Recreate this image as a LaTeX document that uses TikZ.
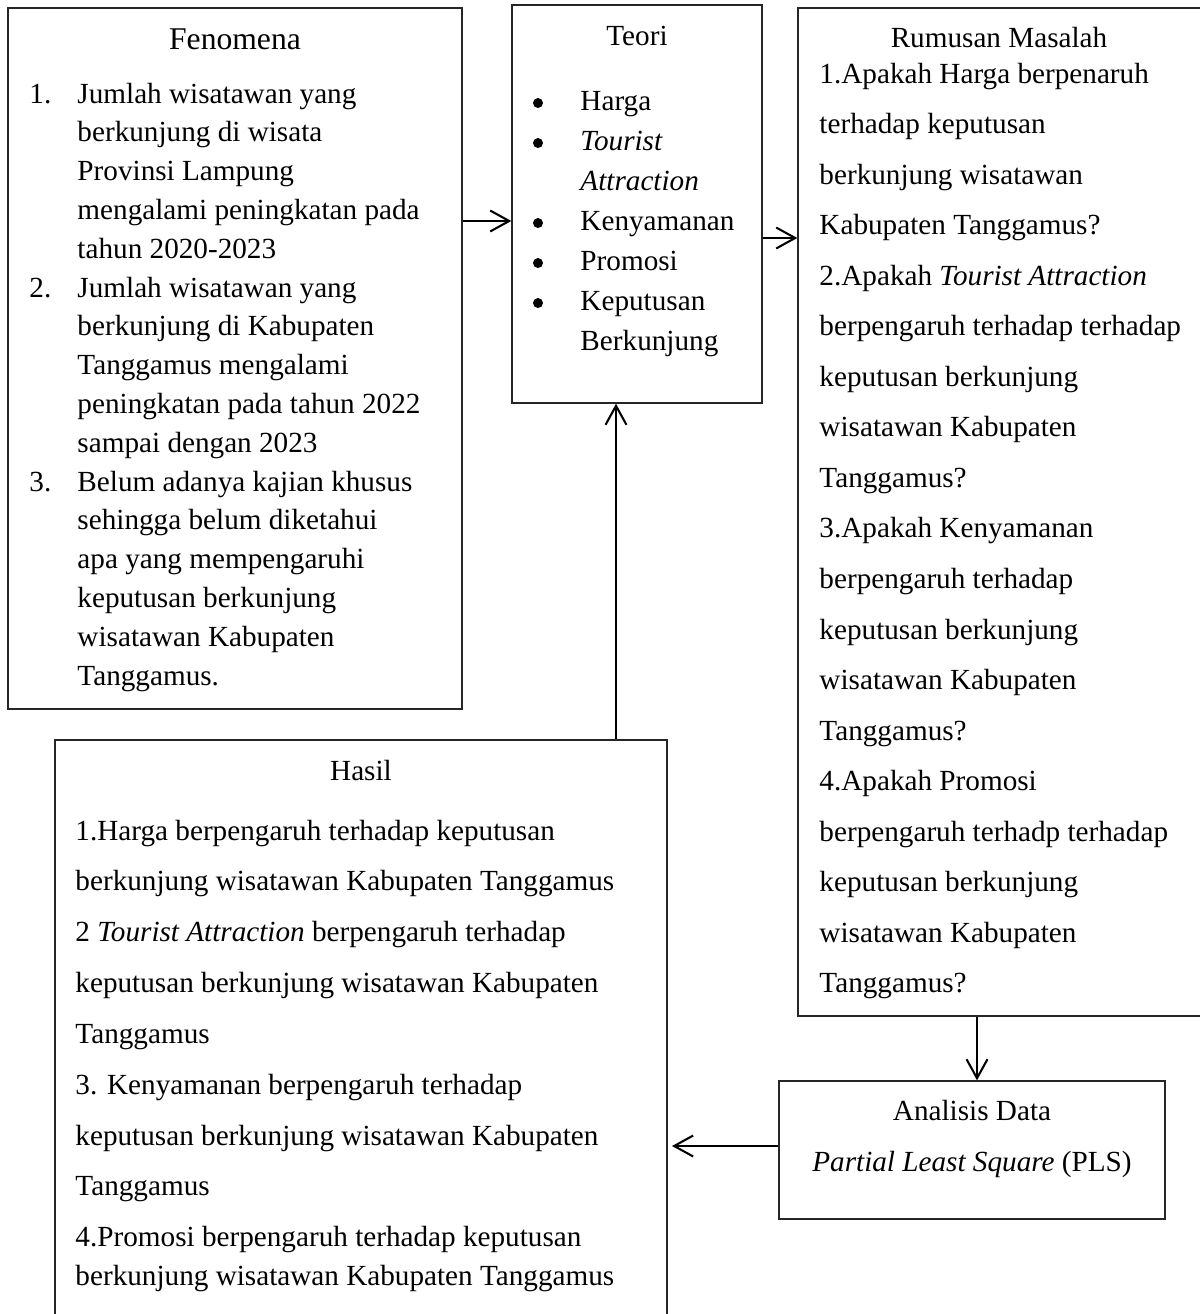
\documentclass[tikz,border=0pt]{standalone}
\usepackage{fontspec}
\setmainfont{Liberation Serif}
\usetikzlibrary{arrows.meta,fit}
\begin{document}
\begin{tikzpicture}[x=0.411pt,y=-0.411pt,
  box/.style={draw=black!85,line width=0.55pt,inner sep=0pt},
  txt/.style={anchor=base west,inner sep=0pt,font=\fontsize{12pt}{14pt}\selectfont},
  ctxt/.style={anchor=base,inner sep=0pt,font=\fontsize{12pt}{14pt}\selectfont},
  bul/.style={circle,fill=black,inner sep=0pt,minimum size=4.1pt},
  arr/.style={line width=0.85pt,-{Straight Barb[length=7.8pt,width=8.6pt,line width=0.85pt]}}]
\useasboundingbox (0,0) rectangle (1200,1314);
\clip (0,0) rectangle (1200,1314);

% boxes
\node[box,fit={(8,8) (462,709)}] (fen) {};
\node[box,fit={(512,5) (762,403)}] (teori) {};
\node[box,fit={(798,8) (1202,1016)}] (rum) {};
\node[box,fit={(55,740) (667,1340)}] (hasil) {};
\node[box,fit={(779,1081) (1165,1219)}] (anal) {};

% Fenomena
\node[ctxt,font=\fontsize{13pt}{15pt}\selectfont] (fent) at (235,49) {Fenomena};
\node[txt] (fn1) at (29,103) {1.};
\node[txt] (fn2) at (29,297) {2.};
\node[txt] (fn3) at (29,491) {3.};
\foreach \t [count=\i] in {Jumlah wisatawan yang, berkunjung di wisata, Provinsi Lampung,
  mengalami peningkatan pada, tahun 2020-2023, Jumlah wisatawan yang, berkunjung di Kabupaten,
  Tanggamus mengalami, peningkatan pada tahun 2022, sampai dengan 2023, Belum adanya kajian khusus,
  sehingga belum diketahui, apa yang mempengaruhi, keputusan berkunjung, wisatawan Kabupaten, Tanggamus.}
  \node[txt] (f\i) at (77,{103+38.8*(\i-1)}) {\t};

% Teori
\node[ctxt] (tt) at (637,45) {Teori};
\foreach \y [count=\i] in {110,150,230,270,310}
  \node[bul] (tb\i) at (538,\y-7) {};
\foreach \t/\y [count=\i] in {Harga/110,\textit{Tourist}/150,\textit{Attraction}/190,Kenyamanan/230,Promosi/270,Keputusan/310,Berkunjung/350}
  \node[txt] (t\i) at (580,\y) {\t};

% Rumusan Masalah
\node[ctxt] (rt) at (999,47) {Rumusan Masalah};
\foreach \t [count=\i] in {1.Apakah Harga berpenaruh, terhadap keputusan, berkunjung wisatawan,
  Kabupaten Tanggamus?, {2.Apakah \textit{Tourist Attraction}}, berpengaruh terhadap terhadap,
  keputusan berkunjung, wisatawan Kabupaten, Tanggamus?, 3.Apakah Kenyamanan,
  berpengaruh terhadap, keputusan berkunjung, wisatawan Kabupaten, Tanggamus?,
  4.Apakah Promosi, berpengaruh terhadp terhadap, keputusan berkunjung, wisatawan Kabupaten, Tanggamus?}
  \node[txt] (r\i) at (819,{83+50.55*(\i-1)}) {\t};

% Hasil
\node[ctxt] (ht) at (361,780) {Hasil};
\foreach \t [count=\i] in {1.Harga berpengaruh terhadap keputusan, berkunjung wisatawan Kabupaten Tanggamus,
  {2 \textit{Tourist Attraction} berpengaruh terhadap}, keputusan berkunjung wisatawan Kabupaten,
  Tanggamus, 3. Kenyamanan berpengaruh terhadap, keputusan berkunjung wisatawan Kabupaten,
  Tanggamus, 4.Promosi berpengaruh terhadap keputusan}
  \node[txt] (h\i) at (75,{840+50.85*(\i-1)}) {\t};
\node[txt] (h10) at (75,1285) {berkunjung wisatawan Kabupaten Tanggamus};

% Analisis
\node[ctxt] (at1) at (972,1120) {Analisis Data};
\node[ctxt] (at2) at (972,1171) {\textit{Partial Least Square} (PLS)};

% connectors
\coordinate (y1) at (0,221);
\coordinate (y2) at (0,238);
\coordinate (xv) at (616,0);
\coordinate (xr) at (977,0);
\coordinate (y3) at (0,1146);
\coordinate (tipH) at (672,1146);
\draw[arr] (fen.east |- y1) -- (teori.west |- y1);
\draw[arr] (teori.east |- y2) -- (rum.west |- y2);
\draw[arr] (hasil.north -| xv) -- (teori.south -| xv);
\draw[arr] (rum.south -| xr) -- (anal.north -| xr);
\draw[arr] (anal.west |- y3) -- (tipH);
\end{tikzpicture}
\end{document}
